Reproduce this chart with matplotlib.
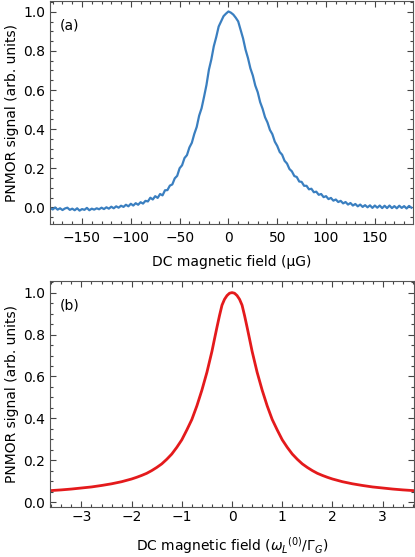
import numpy as np
import matplotlib
matplotlib.use("Agg")
from matplotlib import pyplot as plt
from matplotlib.ticker import MultipleLocator

# -------------------------------
# (a) measured PNMOR signal vs DC field (uG)
# -------------------------------
field_ug = np.arange(-182.5, 188.0, 2.5)
signal_meas = [
    -0.004, -0.011, -0.001, -0.012, -0.005, -0.014, -0.006, -0.002, -0.013, -0.007,
    -0.015, -0.005, -0.017, -0.009, -0.013, -0.003, -0.015, -0.007, -0.012, -0.005,
    -0.010, -0.002, -0.009, 0.000, -0.007, 0.003, -0.005, 0.005, -0.002, 0.008,
    0.002, 0.013, 0.005, 0.018, 0.009, 0.021, 0.013, 0.026, 0.019, 0.033,
    0.030, 0.049, 0.040, 0.057, 0.048, 0.068, 0.061, 0.087, 0.088, 0.111,
    0.117, 0.148, 0.161, 0.200, 0.215, 0.252, 0.267, 0.306, 0.330, 0.375,
    0.411, 0.469, 0.507, 0.565, 0.626, 0.704, 0.757, 0.824, 0.871, 0.925,
    0.951, 0.978, 0.991, 1.002, 0.996, 0.986, 0.970, 0.951, 0.908, 0.864,
    0.807, 0.764, 0.711, 0.674, 0.623, 0.589, 0.538, 0.504, 0.461, 0.434,
    0.396, 0.374, 0.336, 0.314, 0.283, 0.269, 0.238, 0.224, 0.196, 0.184,
    0.160, 0.155, 0.132, 0.130, 0.110, 0.110, 0.092, 0.095, 0.077, 0.080,
    0.064, 0.068, 0.052, 0.057, 0.042, 0.048, 0.034, 0.040, 0.027, 0.033,
    0.020, 0.027, 0.014, 0.022, 0.009, 0.017, 0.005, 0.014, 0.002, 0.011,
    0.000, 0.010, -0.003, 0.009, -0.002, 0.009, -0.004, 0.008, -0.004, 0.009,
    -0.004, 0.006, -0.005, 0.008, -0.003, 0.006, -0.006, 0.007, -0.002,
]

# -------------------------------
# (b) calculated signal vs omega_L / Gamma_G
# -------------------------------
field_norm = [
    -3.65, -3.4, -3.2, -3.0, -2.8, -2.6, -2.4, -2.2, -2.0, -1.9, -1.8, -1.7,
    -1.6, -1.5, -1.4, -1.3, -1.2, -1.1, -1.0, -0.9, -0.8, -0.7, -0.6, -0.5,
    -0.4, -0.35, -0.3, -0.25, -0.2, -0.15, -0.1, -0.05, 0.0,
    0.05, 0.1, 0.15, 0.2, 0.25, 0.3, 0.35, 0.4, 0.5, 0.6, 0.7, 0.8, 0.9,
    1.0, 1.1, 1.2, 1.3, 1.4, 1.5, 1.6, 1.7, 1.8, 1.9, 2.0, 2.2, 2.4, 2.6,
    2.8, 3.0, 3.2, 3.4, 3.65,
]
signal_calc = [
    0.055, 0.059, 0.063, 0.068, 0.073, 0.080, 0.088, 0.098, 0.111, 0.119,
    0.128, 0.138, 0.151, 0.166, 0.183, 0.205, 0.230, 0.262, 0.298, 0.345,
    0.395, 0.460, 0.535, 0.620,
    0.720, 0.778, 0.835, 0.890, 0.940, 0.968, 0.986, 0.997, 1.000,
    0.997, 0.986, 0.968, 0.940, 0.890, 0.835, 0.778, 0.720,
    0.620, 0.535, 0.460, 0.395, 0.345, 0.298, 0.262, 0.230, 0.205, 0.183,
    0.166, 0.151, 0.138, 0.128, 0.119, 0.111, 0.098, 0.088, 0.080, 0.073,
    0.068, 0.063, 0.059, 0.055,
]

plt.rcParams['font.family'] = ['DejaVu Sans']
plt.rcParams['mathtext.fontset'] = 'dejavusans'
plt.rcParams['font.size'] = 10

fig = plt.figure(figsize=(4.15, 5.57), dpi=100)
ax1 = fig.add_axes([0.120, 0.598, 0.875, 0.400])
ax2 = fig.add_axes([0.120, 0.090, 0.877, 0.405])

def style(ax, xpad):
    ax.tick_params(which='both', direction='in', top=True, right=True,
                   color='#444444', width=0.8)
    ax.tick_params(which='major', length=4)
    ax.tick_params(which='minor', length=2)
    ax.tick_params(axis='x', pad=xpad)
    ax.tick_params(axis='y', pad=3.5)
    for s in ax.spines.values():
        s.set_color('#555555')
        s.set_linewidth(0.8)

ax1.plot(field_ug, signal_meas, color='#3a7fc0', lw=1.6)
ax1.set_xlim(-183, 189)
ax1.set_ylim(-0.085, 1.055)
ax1.xaxis.set_major_locator(MultipleLocator(50))
ax1.xaxis.set_minor_locator(MultipleLocator(10))
ax1.yaxis.set_major_locator(MultipleLocator(0.2))
ax1.yaxis.set_minor_locator(MultipleLocator(0.05))
ax1.set_xlabel('DC magnetic field (μG)', labelpad=7)
ax1.set_ylabel('PNMOR signal (arb. units)', labelpad=3)
ax1.text(0.028, 0.89, '(a)', transform=ax1.transAxes, va='center')
style(ax1, 5)

ax2.plot(field_norm, signal_calc, color='#e41a1c', lw=2.0)
ax2.set_xlim(-3.63, 3.62)
ax2.set_ylim(-0.022, 1.054)
ax2.xaxis.set_major_locator(MultipleLocator(1))
ax2.xaxis.set_minor_locator(MultipleLocator(0.2))
ax2.yaxis.set_major_locator(MultipleLocator(0.2))
ax2.yaxis.set_minor_locator(MultipleLocator(0.05))
ax2.set_xlabel(r'DC magnetic field ($\omega_L{}^{(0)}/\Gamma_G$)', labelpad=8)
ax2.set_ylabel('PNMOR signal (arb. units)', labelpad=3)
ax2.text(0.028, 0.894, '(b)', transform=ax2.transAxes, va='center')
style(ax2, 2)

fig.savefig('out.png', dpi=100)
